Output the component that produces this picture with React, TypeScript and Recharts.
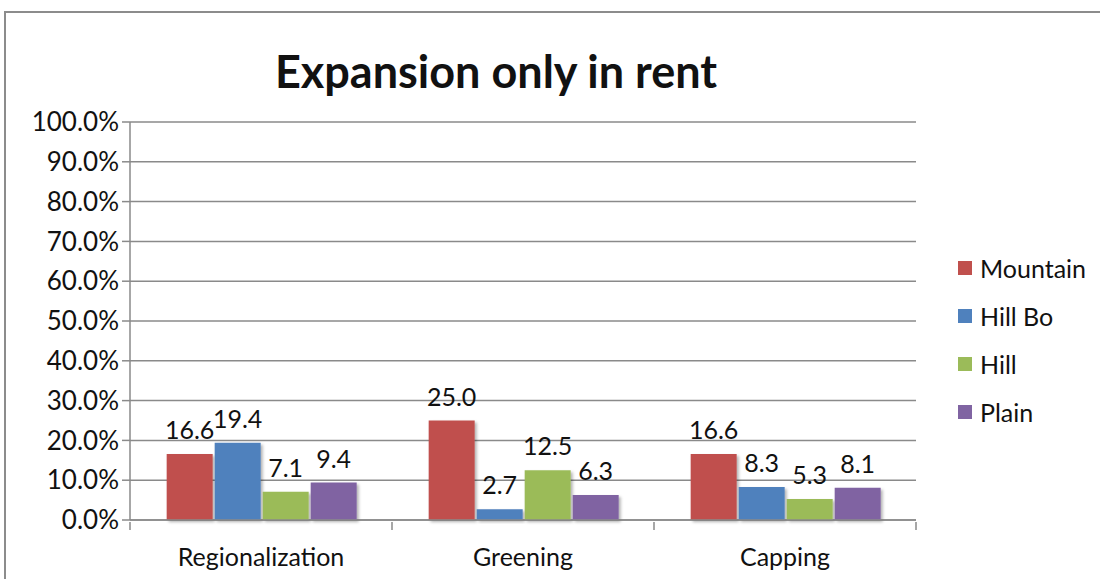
import { BarChart, Bar, XAxis, YAxis, CartesianGrid, LabelList } from 'recharts';

const categories = ['Regionalization', 'Greening', 'Capping'];
const mountain = [16.6, 25.0, 16.6];
const hillBo = [19.4, 2.7, 8.3];
const hill = [7.1, 12.5, 5.3];
const plain = [9.4, 6.3, 8.1];
const yTicks = [0, 10, 20, 30, 40, 50, 60, 70, 80, 90, 100];

const SERIES = [
  { key: 'mountain', name: 'Mountain', color: '#C0504D' },
  { key: 'hillBo', name: 'Hill Bo', color: '#4F81BD' },
  { key: 'hill', name: 'Hill', color: '#9BBB59' },
  { key: 'plain', name: 'Plain', color: '#8064A2' },
];

const data = categories.map((name, i) => ({
  name,
  mountain: mountain[i],
  hillBo: hillBo[i],
  hill: hill[i],
  plain: plain[i],
}));

const FONT = 'Lato, "Open Sans", sans-serif';
const GRID = '#8a8a8a';

// category label at centre, tick marks at band edges
function CategoryTick(props: any) {
  const { x, y, payload } = props;
  const half = payload?.offset || 131;
  return (
    <g>
      <line x1={x - half} y1={y - 6} x2={x - half} y2={y + 2} stroke={GRID} strokeWidth={1.5} />
      {payload.index === categories.length - 1 && (
        <line x1={x + half} y1={y - 6} x2={x + half} y2={y + 2} stroke={GRID} strokeWidth={1.5} />
      )}
      <text x={x} y={y + 38} textAnchor="middle" fontSize={25} fill="#111" fontFamily={FONT}>
        {payload.value}
      </text>
    </g>
  );
}

function LegendBox() {
  return (
    <div style={{ fontFamily: FONT, fontSize: 25, color: '#111' }}>
      {SERIES.map((s) => (
        <div key={s.key} style={{ display: 'flex', alignItems: 'center', height: 48 }}>
          <span style={{ width: 14, height: 14, background: s.color, marginRight: 8, display: 'inline-block' }} />
          <span>{s.name}</span>
        </div>
      ))}
    </div>
  );
}

export default function App() {
  return (
    <div style={{ position: 'absolute', left: 0, top: 0, width: 1100, height: 579, background: '#fff', overflow: 'hidden' }}>
      <div
        style={{
          position: 'absolute',
          left: 4,
          top: 11,
          width: 1200,
          height: 700,
          border: '2px solid #8c8c8c',
        }}
      />
      <div
        style={{
          position: 'absolute',
          left: 0,
          width: 992,
          top: 44,
          textAlign: 'center',
          fontFamily: FONT,
          fontWeight: 700,
          fontSize: 45,
          color: '#111',
        }}
      >
        Expansion only in rent
      </div>
      <div style={{ position: 'absolute', left: 958, top: 244 }}>
        <LegendBox />
      </div>
      <div style={{ position: 'absolute', left: 0, top: 0 }}>
        <BarChart
          width={1100}
          height={579}
          data={data}
          margin={{ top: 122, right: 184, bottom: 0, left: 10 }}
          barCategoryGap="14%"
          barGap={2}
        >
          <defs>
            <filter id="barShadow" x="-20%" y="-20%" width="150%" height="150%">
              <feDropShadow dx={2} dy={2} stdDeviation={1.5} floodColor="#000" floodOpacity={0.3} />
            </filter>
          </defs>
          <CartesianGrid vertical={false} stroke={GRID} strokeWidth={1.5} />
          <XAxis
            dataKey="name"
            axisLine={{ stroke: GRID, strokeWidth: 1.5 }}
            tickLine={false}
            tick={<CategoryTick />}
            interval={0}
            height={59}
          />
          <YAxis
            domain={[0, 100]}
            ticks={yTicks}
            interval={0}
            width={120}
            tickSize={8}
            tickMargin={3}
            axisLine={{ stroke: GRID, strokeWidth: 1.5 }}
            tickLine={{ stroke: GRID, strokeWidth: 1.5 }}
            tick={{ fontSize: 26, fill: '#111', fontFamily: FONT }}
            tickFormatter={(v: number) => `${v.toFixed(1)}%`}
          />
          {SERIES.map((s) => (
            <Bar key={s.key} dataKey={s.key} name={s.name} fill={s.color} isAnimationActive={false} filter="url(#barShadow)">
              <LabelList
                dataKey={s.key}
                position="top"
                offset={15}
                fontSize={25}
                fill="#111"
                fontFamily={FONT}
                formatter={(v: number) => v.toFixed(1)}
              />
            </Bar>
          ))}
        </BarChart>
      </div>
    </div>
  );
}
